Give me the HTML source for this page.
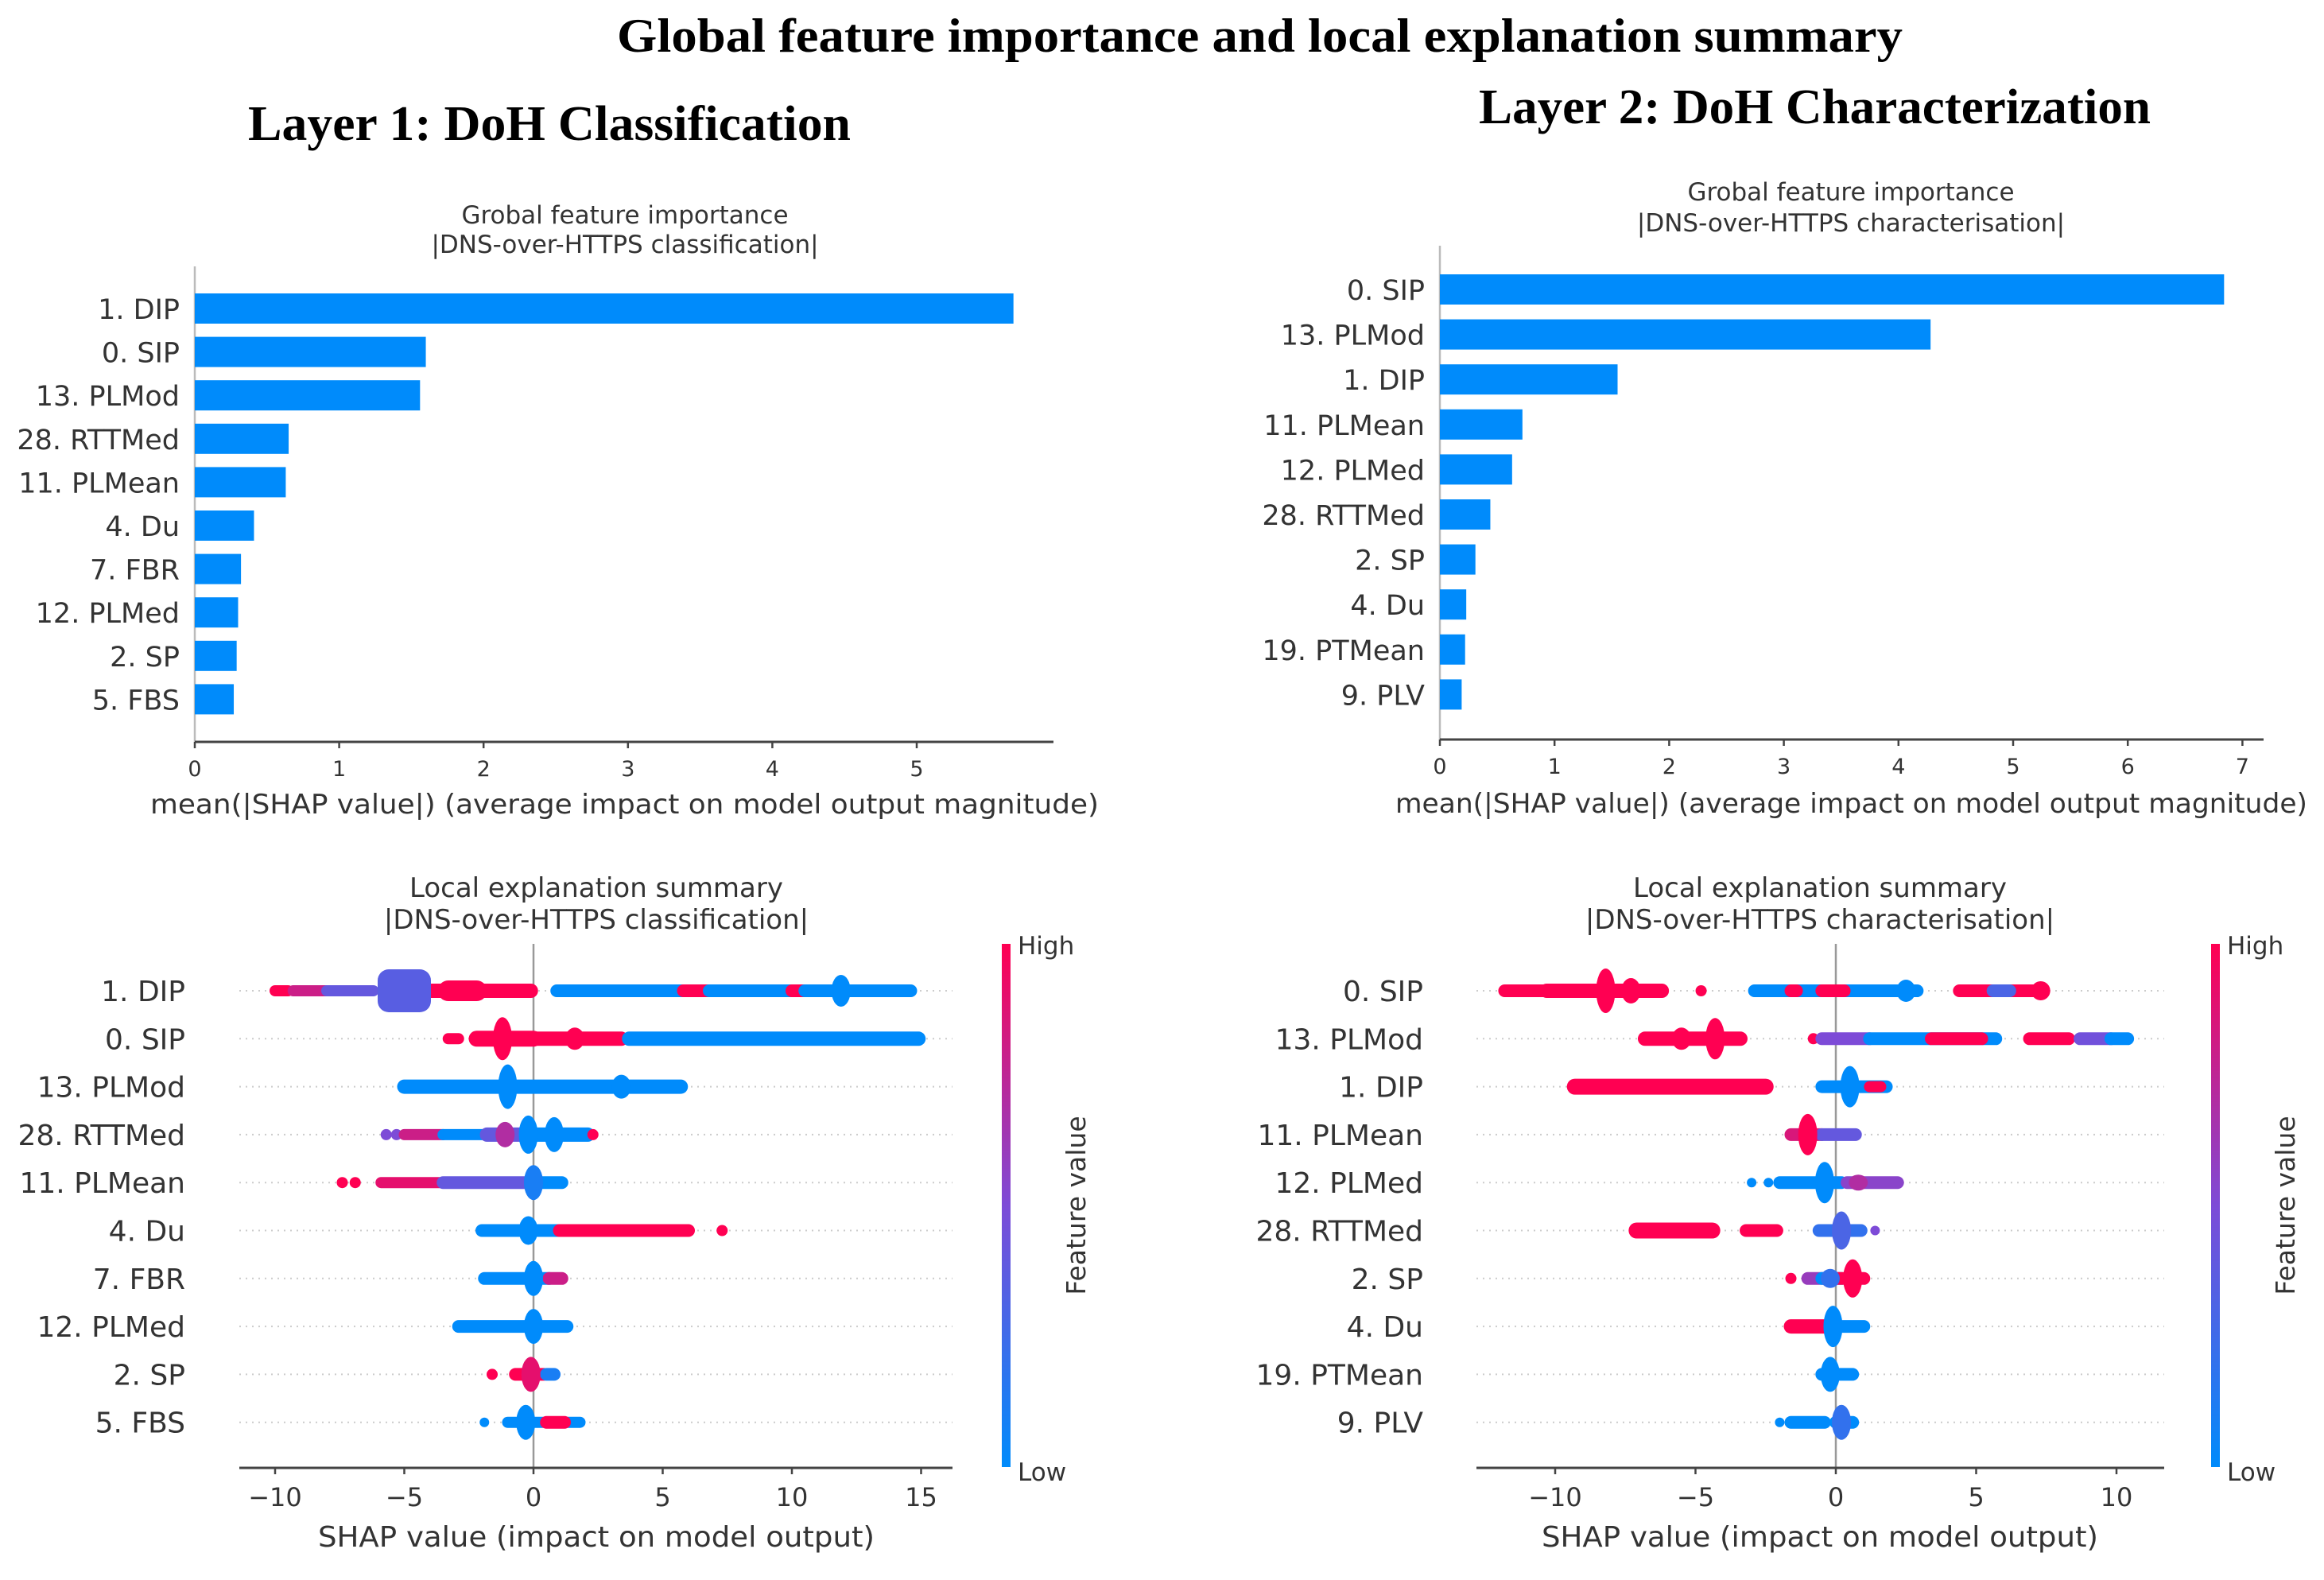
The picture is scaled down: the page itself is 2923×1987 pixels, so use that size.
<!DOCTYPE html>
<html><head><meta charset="utf-8">
<style>
html,body{margin:0;padding:0;background:#fff;}
svg{display:block;}
.lbl{font-family:"DejaVu Sans","Liberation Sans",sans-serif;fill:#333;}
.ttl{font-family:"Liberation Serif",serif;font-weight:bold;fill:#000;}
</style></head>
<body>
<svg id="fig" width="2923" height="1987" viewBox="0 0 2923 1987" xmlns="http://www.w3.org/2000/svg">
<defs>
<linearGradient id="cbar" x1="0" y1="1" x2="0" y2="0">
<stop offset="0" stop-color="#008bfb"/><stop offset="0.5" stop-color="#7d4bd7"/><stop offset="1" stop-color="#ff0052"/>
</linearGradient>
</defs>
<text class="ttl" x="776" y="65" font-size="60" textLength="1617" lengthAdjust="spacingAndGlyphs">Global feature importance and local explanation summary</text>
<text class="ttl" x="312" y="176" font-size="62" textLength="758" lengthAdjust="spacingAndGlyphs">Layer 1: DoH Classification</text>
<text class="ttl" x="1860" y="155" font-size="62" textLength="845" lengthAdjust="spacingAndGlyphs">Layer 2: DoH Characterization</text>
</svg>
<script>
// ---------- data: bar charts ----------
const barCatsL = ["1. DIP","0. SIP","13. PLMod","28. RTTMed","11. PLMean","4. Du","7. FBR","12. PLMed","2. SP","5. FBS"];
const barValsL = [5.67,1.60,1.56,0.65,0.63,0.41,0.32,0.30,0.29,0.27];
const barTicksL = [0,1,2,3,4,5];
const barCatsR = ["0. SIP","13. PLMod","1. DIP","11. PLMean","12. PLMed","28. RTTMed","2. SP","4. Du","19. PTMean","9. PLV"];
const barValsR = [6.84,4.28,1.55,0.72,0.63,0.44,0.31,0.23,0.22,0.19];
const barTicksR = [0,1,2,3,4,5,6,7];

// ---------- data: beeswarm (row, shap start, shap end, feature value 0..1, spread) ----------
const swarmCatsL = ["1. DIP","0. SIP","13. PLMod","28. RTTMed","11. PLMean","4. Du","7. FBR","12. PLMed","2. SP","5. FBS"];
const swarmSegsL = [
 [0,-10,-9.5,1,7],[0,-9.3,-8,0.8,7],[0,-8,-6.2,0.4,7],[0,-4,-0.1,1,9],[0,-3.3,-2.2,1,13],
 [0,-5.2,-4.8,0.35,27],
 [0,0.9,5.8,0,8],[0,5.8,6.8,1,8],[0,6.8,10,0,8],[0,10,10.5,1,8],[0,10.5,14.6,0,8],
 [1,-3.3,-2.9,1,7],[1,-2.2,0,1,10],[1,0,3.4,1,9],[1,3.7,14.9,0,9],
 [2,-5,5.7,0,9],
 [3,-5.7,-5.7,0.5,7],[3,-5.3,-5.3,0.5,7],[3,-5,-3.5,0.8,7],[3,-3.5,-1.8,0,7],[3,-1.8,0,0.4,9],[3,0,2.1,0,9],[3,2.3,2.3,1,7],
 [4,-7.4,-7.4,1,7],[4,-6.9,-6.9,1,7],[4,-5.9,-3.5,0.9,7],[4,-3.5,0,0.4,8],[4,0,1.1,0,8],
 [5,-2,1,0,8],[5,1,6,1,8],[5,7.3,7.3,1,7],
 [6,-1.9,0.6,0,8],[6,0.6,1.1,0.8,8],
 [7,-2.9,1.3,0,8],
 [8,-1.6,-1.6,1,7],[8,-0.7,0.4,1,8],[8,0.5,0.8,0.1,8],
 [9,-1.9,-1.9,0,6],[9,-1,1.8,0,7],[9,0.5,1.2,1,8]
];
const swarmPeaksL = [
 [0,-2.2,1,12],[0,11.9,0,20],
 [1,-1.2,1,27],[1,1.6,1,14],
 [2,-1,0,28],[2,3.4,0,15],
 [3,-1.1,0.7,16],[3,-0.2,0,24],[3,0.8,0,22],
 [4,0,0.1,22],
 [5,-0.2,0,18],
 [6,0,0,22],
 [7,0,0,22],
 [8,-0.1,0.9,22],
 [9,-0.3,0,22]
];
const swarmTicksL = [-10,-5,0,5,10,15];

const swarmCatsR = ["0. SIP","13. PLMod","1. DIP","11. PLMean","12. PLMed","28. RTTMed","2. SP","4. Du","19. PTMean","9. PLV"];
const swarmSegsR = [
 [0,-11.8,-10.4,1,8],[0,-10.3,-6.2,1,9],[0,-4.8,-4.8,1,7],[0,-2.9,2.9,0,8],[0,-1.6,-1.4,1,8],[0,-0.5,0.3,1,8],[0,4.4,7.4,1,8],[0,5.6,6.2,0.3,8],
 [1,-6.8,-3.4,1,9],[1,-0.8,-0.8,1,7],[1,-0.5,1.2,0.5,8],[1,1.2,5.7,0,8],[1,3.4,5.2,1,8],[1,6.9,8.3,1,8],[1,8.7,9.8,0.45,8],[1,9.8,10.4,0,8],
 [2,-9.3,-2.5,1,10],[2,-0.5,1.8,0,8],[2,1.2,1.6,1,7],
 [3,-1.6,-0.5,0.85,8],[3,-0.5,0.7,0.4,8],
 [4,-3,-3,0,6],[4,-2.4,-2.4,0,6],[4,-2,0.2,0,8],[4,0.4,2.2,0.55,8],
 [5,-7.1,-4.4,1,10],[5,-3.2,-2.1,1,8],[5,-0.6,0.9,0.2,8],[5,1.4,1.4,0.5,6],
 [6,-1.6,-1.6,1,7],[6,-1,-0.3,0.6,8],[6,-0.5,0.2,0,8],[6,0,1,1,8],
 [7,-1.6,-0.2,1,9],[7,-0.2,1,0,8],
 [8,-0.5,-0.5,1,7],[8,-0.5,0.6,0,8],
 [9,-2,-2,0,6],[9,-1.6,-0.4,0,8],[9,0,0.6,0,8]
];
const swarmPeaksR = [
 [0,-8.2,1,28],[0,-7.3,1,16],[0,2.5,0,14],[0,7.3,1,12],
 [1,-5.5,1,14],[1,-4.3,1,26],
 [2,0.5,0,26],
 [3,-1,1,26],
 [4,-0.4,0,26],[4,0.8,0.7,10],
 [5,0.2,0.3,24],
 [6,0.6,1,24],[6,-0.2,0.2,12],
 [7,-0.1,0,26],
 [8,-0.2,0,22],
 [9,0.2,0.2,22]
];
const swarmTicksR = [-10,-5,0,5,10];

// ---------- drawing ----------
const svg = document.getElementById('fig');
const NS = 'http://www.w3.org/2000/svg';
function mk(tag, attrs, parent){
  const e = document.createElementNS(NS, tag);
  for (const k in attrs) e.setAttribute(k, attrs[k]);
  (parent||svg).appendChild(e);
  return e;
}
function txt(str, attrs, parent){ const t = mk('text', attrs, parent); t.textContent = str; return t; }
function col(t){
  const a=[0,139,251], m=[125,75,215], b=[255,0,82];
  let c;
  if (t<=0.5){ const u=t/0.5; c=a.map((v,i)=>Math.round(v+(m[i]-v)*u)); }
  else { const u=(t-0.5)/0.5; c=m.map((v,i)=>Math.round(v+(b[i]-v)*u)); }
  return 'rgb('+c.join(',')+')';
}

function barChart(cfg){
  const g = mk('g', {});
  
  
  const xs = v => cfg.x0 + v*cfg.unit;
  const ys = i => cfg.yTop + i*cfg.step;
  txt(cfg.t1, {class:'lbl','text-anchor':'middle',x:cfg.tcx,y:cfg.t1y,'font-size':31}, g);
  txt(cfg.t2, {class:'lbl','text-anchor':'middle',x:cfg.tcx,y:cfg.t2y,'font-size':31}, g);
  mk('line',{x1:cfg.x0,y1:cfg.spineTop,x2:cfg.x0,y2:cfg.axisY,stroke:'#bbb','stroke-width':2.5},g);
  mk('line',{x1:cfg.x0,y1:cfg.axisY,x2:cfg.axisEnd,y2:cfg.axisY,stroke:'#444','stroke-width':3},g);
  cfg.cats.forEach((c,i)=>{
    const r = mk('rect',{x:cfg.x0,y:ys(i)-19,width:xs(cfg.vals[i])-cfg.x0,height:38,fill:'#008bfb'},g);
    
    
    const t = txt(c,{class:'lbl','text-anchor':'end',x:cfg.labelEnd,y:ys(i)+13,'font-size':35},g);
    
    
  });
  cfg.ticks.forEach(v=>{
    mk('line',{x1:xs(v),y1:cfg.axisY,x2:xs(v),y2:cfg.axisY+8,stroke:'#444','stroke-width':2.5},g);
    const t = txt(String(v),{class:'lbl','text-anchor':'middle',x:xs(v),y:cfg.tickY,'font-size':27},g);
    
    
  });
  const xl = txt('mean(|SHAP value|) (average impact on model output magnitude)',{class:'lbl',x:cfg.xlX,y:cfg.xlY,'font-size':34,textLength:cfg.xlW,lengthAdjust:'spacingAndGlyphs'},g);
  
  
}

function swarmChart(cfg){
  const g = mk('g', {});
  
  
  const xs = v => cfg.x0 + v*cfg.unit;
  const ys = i => cfg.yTop + i*cfg.step;
  txt(cfg.t1,{class:'lbl','text-anchor':'middle',x:cfg.tcx,y:1128,'font-size':34},g);
  txt(cfg.t2,{class:'lbl','text-anchor':'middle',x:cfg.tcx,y:1168,'font-size':34},g);
  cfg.cats.forEach((c,i)=>{
    mk('line',{x1:cfg.axisStart,y1:ys(i),x2:cfg.axisEnd,y2:ys(i),stroke:'#ccc','stroke-width':2,'stroke-dasharray':'2 6'},g);
    const t = txt(c,{class:'lbl','text-anchor':'end',x:cfg.labelEnd,y:ys(i)+13,'font-size':36},g);
    
    
  });
  mk('line',{x1:xs(0),y1:1187,x2:xs(0),y2:cfg.axisY,stroke:'#999','stroke-width':2.5},g);
  cfg.segs.forEach(s=>{
    const [row,a,b,fv,h] = s;
    const x1 = xs(a)-h, x2 = xs(b)+h;
    const r = mk('rect',{x:x1,y:ys(row)-h,width:x2-x1,height:2*h,rx:Math.min(h,14),fill:col(fv)},g);
    
    
  });
  cfg.peaks.forEach(p=>{
    const [row,v,fv,h] = p;
    const e = mk('ellipse',{cx:xs(v),cy:ys(row),rx:12,ry:h,fill:col(fv)},g);
    
    
  });
  mk('line',{x1:cfg.axisStart,y1:cfg.axisY,x2:cfg.axisEnd,y2:cfg.axisY,stroke:'#444','stroke-width':3},g);
  cfg.ticks.forEach(v=>{
    mk('line',{x1:xs(v),y1:cfg.axisY,x2:xs(v),y2:cfg.axisY+8,stroke:'#444','stroke-width':2.5},g);
    const t = txt(v<0?'\u2212'+Math.abs(v):String(v),{class:'lbl','text-anchor':'middle',x:xs(v),y:1894,'font-size':32},g);
    
    
  });
  const xl = txt('SHAP value (impact on model output)',{class:'lbl','text-anchor':'middle',x:cfg.tcx,y:1945,'font-size':36,textLength:700,lengthAdjust:'spacingAndGlyphs'},g);
  
  
  const cb = mk('rect',{x:cfg.cbX,y:1187,width:11,height:658,fill:'url(#cbar)'},g);
  
  
  txt('High',{class:'lbl',x:cfg.cbX+20,y:1200,'font-size':31},g);
  txt('Low',{class:'lbl',x:cfg.cbX+20,y:1862,'font-size':31},g);
  const fv = txt('Feature value',{class:'lbl','text-anchor':'middle',x:cfg.cbX+105,y:1516,'font-size':33,transform:'rotate(-90 '+(cfg.cbX+105)+' 1516)'},g);
  
  
}

barChart({name:'layer1-importance-chart',cats:barCatsL,vals:barValsL,ticks:barTicksL,x0:245,unit:181.6,yTop:388,step:54.6,
  spineTop:335,axisY:933,axisEnd:1325,labelEnd:226,tickY:976,xlX:189,xlY:1023,xlW:1193,
  tcx:786,t1:'Grobal feature importance',t2:'|DNS-over-HTTPS classification|',t1y:281,t2y:318});
barChart({name:'layer2-importance-chart',cats:barCatsR,vals:barValsR,ticks:barTicksR,x0:1811,unit:144.2,yTop:364,step:56.6,
  spineTop:309,axisY:930,axisEnd:2847,labelEnd:1792,tickY:973,xlX:1755,xlY:1022,xlW:1147,
  tcx:2328,t1:'Grobal feature importance',t2:'|DNS-over-HTTPS characterisation|',t1y:252,t2y:291});
swarmChart({name:'layer1-summary-chart',cats:swarmCatsL,segs:swarmSegsL,peaks:swarmPeaksL,ticks:swarmTicksL,
  x0:671,unit:32.5,yTop:1246,step:60.3,axisY:1846,axisStart:301,axisEnd:1198,labelEnd:233,cbX:1260,
  tcx:750,t1:'Local explanation summary',t2:'|DNS-over-HTTPS classification|'});
swarmChart({name:'layer2-summary-chart',cats:swarmCatsR,segs:swarmSegsR,peaks:swarmPeaksR,ticks:swarmTicksR,
  x0:2309,unit:35.3,yTop:1246,step:60.3,axisY:1846,axisStart:1857,axisEnd:2722,labelEnd:1790,cbX:2781,
  tcx:2289,t1:'Local explanation summary',t2:'|DNS-over-HTTPS characterisation|'});
</script>
</body></html>
